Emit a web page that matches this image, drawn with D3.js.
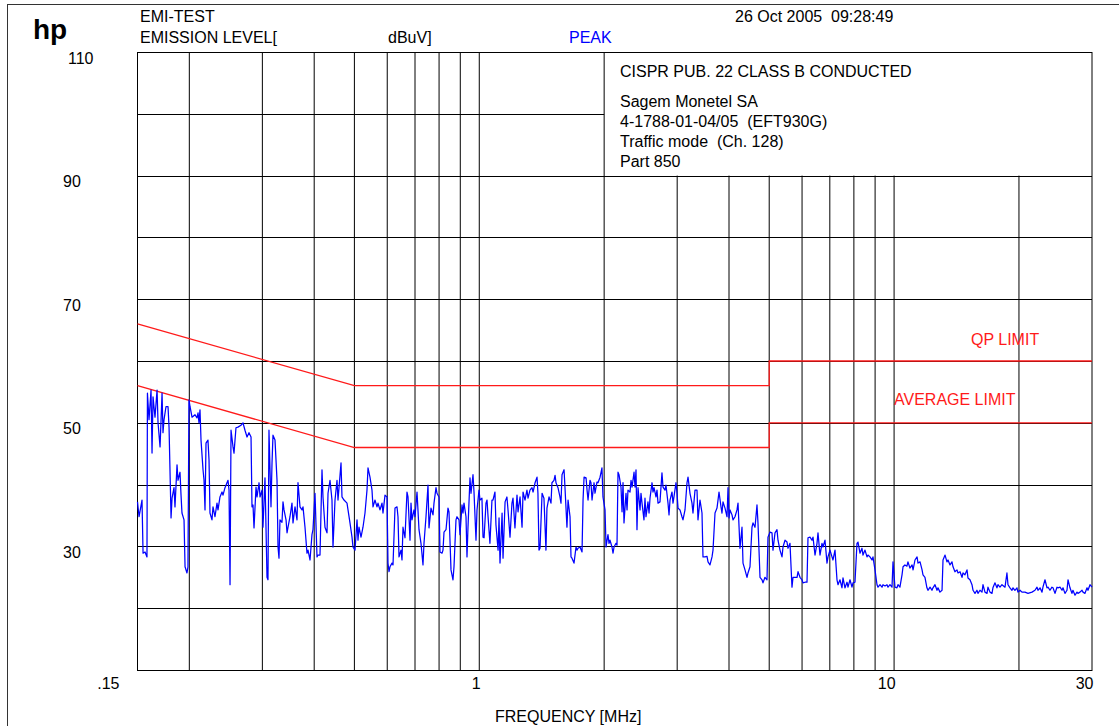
<!DOCTYPE html>
<html>
<head>
<meta charset="utf-8">
<script src="https://cdn.jsdelivr.net/npm/d3@7"></script>
<style>
  body { margin: 0; background: #fff; }
  svg text { font-family: "Liberation Sans", Arial, Helvetica, sans-serif; white-space: pre; }
</style>
</head>
<body>
<svg id="chart" width="1119" height="726"></svg>
<script>
// Peak scan of conducted emission, frequency in MHz, level in dBuV
const freqMHz = [
  0.1500,0.1513,0.1538,0.1547,0.1564,0.1581,0.1585,0.1599,0.1617,0.1626,0.1635,0.1653,0.1672,0.1681,0.1700,0.1719,0.1728,0.1738,0.1757,0.1777,
  0.1787,0.1807,0.1817,0.1837,0.1847,0.1868,0.1878,0.1899,0.1910,0.1920,0.1942,0.1953,0.1974,0.1985,0.1996,0.2008,0.2030,0.2064,0.2087,0.2099,
  0.2110,0.2122,0.2134,0.2158,0.2170,0.2182,0.2194,0.2218,0.2231,0.2243,0.2268,0.2281,0.2306,0.2332,0.2345,0.2371,0.2398,0.2411,0.2438,0.2465,
  0.2479,0.2493,0.2507,0.2521,0.2549,0.2563,0.2591,0.2620,0.2664,0.2694,0.2724,0.2755,0.2785,0.2817,0.2832,0.2848,0.2864,0.2896,0.2912,0.2945,
  0.2961,0.2994,0.3010,0.3044,0.3078,0.3095,0.3112,0.3147,0.3165,0.3182,0.3218,0.3254,0.3272,0.3290,0.3308,0.3345,0.3364,0.3383,0.3421,0.3440,
  0.3459,0.3497,0.3536,0.3556,0.3596,0.3636,0.3656,0.3697,0.3738,0.3759,0.3801,0.3843,0.3865,0.3908,0.3951,0.3973,0.4018,0.4063,0.4085,0.4131,
  0.4177,0.4200,0.4247,0.4295,0.4319,0.4367,0.4415,0.4440,0.4490,0.4540,0.4565,0.4642,0.4667,0.4720,0.4799,0.4826,0.4879,0.4934,0.4961,0.5017,
  0.5073,0.5101,0.5129,0.5187,0.5244,0.5303,0.5362,0.5392,0.5452,0.5513,0.5544,0.5606,0.5668,0.5700,0.5763,0.5828,0.5860,0.5926,0.5992,0.6025,
  0.6059,0.6092,0.6160,0.6195,0.6264,0.6334,0.6369,0.6405,0.6476,0.6512,0.6548,0.6621,0.6695,0.6733,0.6808,0.6846,0.6884,0.6961,0.6999,0.7078,
  0.7157,0.7236,0.7317,0.7358,0.7440,0.7523,0.7565,0.7649,0.7735,0.7778,0.7865,0.7908,0.7997,0.8041,0.8131,0.8176,0.8222,0.8314,0.8406,0.8453,
  0.8548,0.8595,0.8643,0.8691,0.8788,0.8837,0.8936,0.8985,0.9086,0.9136,0.9187,0.9290,0.9341,0.9393,0.9498,0.9551,0.9658,0.9712,0.9820,0.9875,
  0.9985,1.004,1.015,1.021,1.027,1.038,1.044,1.050,1.061,1.073,1.079,1.091,1.097,1.110,1.116,1.122,1.135,1.141,1.154,1.166,
  1.173,1.186,1.199,1.206,1.219,1.233,1.240,1.254,1.268,1.275,1.289,1.303,1.311,1.325,1.340,1.348,1.363,1.378,1.385,1.393,
  1.401,1.417,1.432,1.448,1.456,1.473,1.489,1.497,1.514,1.523,1.531,1.548,1.565,1.574,1.583,1.601,1.609,1.627,1.637,1.655,
  1.664,1.673,1.692,1.711,1.720,1.730,1.749,1.769,1.779,1.789,1.809,1.819,1.829,1.849,1.859,1.870,1.891,1.901,1.922,1.933,
  1.955,1.976,1.987,2.010,2.021,2.043,2.055,2.066,2.089,2.101,2.113,2.136,2.148,2.160,2.172,2.196,2.209,2.221,2.233,2.258,
  2.271,2.283,2.309,2.322,2.335,2.361,2.374,2.387,2.400,2.414,2.441,2.454,2.468,2.495,2.509,2.523,2.551,2.566,2.580,2.609,
  2.623,2.638,2.667,2.682,2.697,2.727,2.757,2.773,2.804,2.819,2.851,2.867,2.883,2.915,2.931,2.947,2.980,2.997,3.014,3.047,
  3.081,3.098,3.133,3.168,3.186,3.221,3.257,3.275,3.312,3.349,3.367,3.405,3.443,3.462,3.501,3.540,3.560,3.599,3.640,3.660,
  3.701,3.742,3.763,3.784,3.826,3.847,3.869,3.912,3.956,3.978,4.000,4.022,4.067,4.090,4.135,4.181,4.205,4.251,4.299,4.323,
  4.371,4.420,4.445,4.494,4.544,4.570,4.621,4.672,4.698,4.751,4.804,4.830,4.884,4.939,4.966,5.022,5.078,5.106,5.163,5.221,
  5.250,5.308,5.368,5.398,5.458,5.519,5.549,5.611,5.674,5.706,5.835,5.867,5.932,5.998,6.031,6.099,6.167,6.201,6.270,6.340,
  6.376,6.447,6.519,6.555,6.628,6.702,6.739,6.815,6.891,6.929,7.006,7.085,7.124,7.204,7.284,7.325,7.406,7.489,7.531,7.615,
  7.700,7.743,7.829,7.916,7.961,8.049,8.139,8.185,8.276,8.368,8.415,8.509,8.604,8.652,8.748,8.846,8.895,8.995,9.095,9.146,
  9.248,9.351,9.403,9.508,9.614,9.668,9.775,9.885,9.940,10.05,10.16,10.22,10.33,10.45,10.51,10.62,10.74,10.80,10.92,11.05,
  11.11,11.23,11.36,11.42,11.55,11.68,11.74,11.87,12.00,12.07,12.21,12.34,12.41,12.55,12.69,12.76,12.90,13.05,13.12,13.27,
  13.41,13.49,13.64,13.79,13.87,14.02,14.18,14.26,14.42,14.58,14.66,14.82,14.99,15.07,15.24,15.41,15.50,15.67,15.84,15.93,
  16.11,16.29,16.38,16.56,16.75,16.84,17.03,17.22,17.31,17.51,17.70,17.80,18.00,18.20,18.51,18.71,18.82,19.03,19.24,19.35,
  19.56,19.78,19.89,20.12,20.34,20.68,21.03,21.50,21.86,22.11,22.23,22.48,22.73,22.85,23.11,23.37,23.50,23.76,24.02,24.16,
  24.43,24.70,24.84,25.12,25.40,25.54,25.82,26.11,26.26,26.55,26.84,26.99,27.30,27.60,27.75,28.06,28.38,28.54,28.85,29.18,
  29.34,29.67,30.00
];
const levelDbuV = [
  37.2,34.8,37.5,28.9,29.1,28.3,54.8,50.5,55.3,45.1,54.2,50.9,55.3,50.0,46.1,54.8,48.4,50.5,52.6,52.6,
  49.3,34.6,37.8,39.5,36.4,43.2,40.7,42.0,38.3,35.4,34.3,26.7,25.7,26.7,53.7,52.6,50.9,51.3,50.8,51.6,
  50.0,52.1,47.2,42.4,40.7,35.9,46.7,47.2,44.0,35.4,34.3,36.4,34.8,37.0,35.9,38.0,38.8,38.3,39.5,40.3,
  40.7,39.1,23.8,48.8,46.1,45.1,49.2,49.3,49.6,50.0,48.8,47.7,48.4,47.7,36.4,36.7,33.0,39.6,38.0,40.3,
  38.0,39.1,33.1,41.1,25.0,24.6,48.8,36.4,43.5,48.0,47.2,40.7,29.9,28.1,34.3,33.9,37.2,35.9,34.3,32.2,
  33.1,34.8,37.0,33.8,36.4,34.3,40.3,36.4,35.9,36.4,33.1,28.9,29.4,27.8,31.9,32.7,38.6,28.3,28.6,28.6,
  42.4,38.0,33.1,32.2,38.6,40.7,37.5,29.9,37.5,40.7,37.5,43.5,38.0,37.5,37.0,35.9,33.8,31.5,29.9,29.4,
  34.3,31.0,33.1,31.5,33.1,35.4,39.1,42.7,41.2,39.1,36.4,37.5,36.4,37.0,35.9,37.0,35.4,38.3,38.0,27.3,
  25.9,26.7,27.3,27.0,36.2,36.4,34.8,28.3,29.4,27.8,33.1,31.4,38.8,38.0,31.0,37.0,34.3,35.9,34.8,38.8,
  32.7,30.5,27.0,30.5,34.8,39.9,33.0,36.2,35.1,37.0,39.5,38.6,38.0,29.1,28.9,29.4,32.3,32.7,36.2,35.6,
  26.2,25.4,24.6,26.7,34.3,34.8,34.3,31.9,36.7,35.4,37.0,34.8,28.3,33.1,41.1,38.6,41.6,38.8,31.0,35.9,
  39.1,37.5,37.8,31.5,31.4,37.0,37.5,34.8,30.5,37.5,37.5,38.8,33.5,29.4,34.6,27.3,35.4,28.1,37.2,38.0,
  35.9,31.5,37.0,37.8,33.0,38.3,35.6,38.0,33.1,38.8,37.5,39.1,37.8,39.1,39.5,38.8,40.3,41.2,38.6,29.4,
  29.7,38.6,37.8,29.4,36.2,38.0,37.0,40.3,40.7,41.5,40.3,39.5,38.0,37.0,41.6,42.4,39.6,33.1,37.5,34.8,
  28.3,28.1,27.3,29.9,29.4,29.7,29.9,29.1,37.5,41.2,41.1,39.1,37.5,40.7,40.3,37.5,40.3,38.6,40.4,40.3,
  41.2,42.7,38.0,35.9,29.9,31.9,30.5,31.0,29.9,28.9,29.9,30.5,30.2,42.0,41.6,39.6,35.6,40.3,33.8,38.6,
  35.9,39.1,38.8,40.7,39.6,42.0,39.6,42.4,32.7,39.5,35.9,38.6,37.0,34.3,37.8,34.8,37.2,35.4,37.8,40.3,
  38.8,39.5,38.0,39.1,37.0,37.2,41.9,39.6,39.1,39.9,37.0,35.1,37.5,38.8,37.0,38.0,40.3,38.6,36.2,35.9,
  34.8,34.3,35.9,40.3,41.2,38.6,37.0,35.4,39.1,39.1,34.3,37.5,35.4,28.3,28.3,28.4,27.5,27.0,28.3,29.4,
  35.4,36.2,37.5,38.8,36.4,35.4,37.2,36.2,34.8,39.5,34.6,35.9,35.1,34.3,34.8,35.9,37.0,29.7,33.1,27.3,
  26.2,25.0,25.7,26.7,33.1,33.8,33.1,36.7,33.8,25.0,24.6,24.1,25.0,24.6,31.5,32.3,32.2,29.4,32.2,32.7,
  31.0,29.4,28.3,29.9,31.0,30.7,29.7,30.5,23.4,25.0,25.0,25.9,25.0,24.6,24.1,24.2,24.2,31.4,31.5,31.0,
  31.5,28.6,30.5,32.2,28.6,30.5,29.9,31.0,27.3,28.3,29.4,28.3,27.8,29.4,24.6,23.8,24.6,23.3,24.9,23.3,
  24.2,23.4,24.6,23.4,24.1,24.2,30.5,30.7,28.9,29.7,28.6,29.4,28.3,28.6,28.3,27.8,28.3,26.2,23.8,23.4,
  23.8,23.4,23.8,23.6,23.8,23.4,23.8,23.4,27.5,23.4,23.3,23.8,23.4,25.4,26.7,27.0,26.8,27.5,26.5,27.0,
  26.2,27.8,28.3,27.3,27.5,26.2,25.4,25.0,23.3,22.9,23.4,22.9,23.3,23.8,22.9,23.3,22.6,22.9,27.8,28.6,
  27.5,27.8,27.0,27.5,26.7,25.9,26.2,25.7,25.9,25.0,25.7,25.4,26.2,24.9,24.6,23.8,22.9,22.4,22.9,22.4,
  22.9,22.6,23.8,22.6,22.4,23.4,22.6,22.4,23.3,24.1,23.3,23.8,23.4,23.8,23.4,25.7,23.8,23.3,22.9,23.3,
  22.9,23.3,22.6,22.9,22.6,22.6,22.4,22.6,22.9,23.4,22.9,23.3,22.6,23.4,24.6,23.3,23.4,22.9,23.4,23.3,
  22.4,23.4,23.3,23.4,22.9,23.3,22.4,22.9,24.6,23.3,22.4,22.9,22.1,22.6,22.4,22.6,22.9,22.6,22.4,23.3,
  22.9,23.8,23.4
];

// CISPR 22 class B conducted limits (corner points)
const limitFreqMHz = [0.15, 0.5, 5, 5, 30];
const qpLimitDbuV  = [66, 56, 56, 60, 60];
const avgLimitDbuV = [56, 46, 46, 50, 50];

// Axis grid and labels
const gridFreqMHz = [0.2, 0.3, 0.4, 0.5, 0.6, 0.7, 0.8, 0.9, 1, 2, 3, 4, 5, 6, 7, 8, 9, 10, 20];
const gridLevels = [20, 30, 40, 50, 60, 70, 80, 90, 100];
const freqTickValues = [0.15, 1, 10, 30];
const freqTickLabels = [".15", "1", "10", "30"];
const levelTickValues = [110, 90, 70, 50, 30];
const levelTickLabels = ["110", "90", "70", "50", "30"];

const headerLines = ["EMI-TEST", "EMISSION LEVEL[", "dBuV]", "PEAK", "26 Oct 2005  09:28:49"];
const infoLines = ["CISPR PUB. 22 CLASS B CONDUCTED", "Sagem Monetel SA", "4-1788-01-04/05  (EFT930G)", "Traffic mode  (Ch. 128)", "Part 850"];

const svg = d3.select("#chart");
const x = d3.scaleLog().domain([0.15, 30]).range([137.5, 1092]);
const y = d3.scaleLinear().domain([10, 110]).range([670, 52]);
const BOX_FREQ = 2;      // info box starts at the 2 MHz grid line
const BOX_LEVEL = 90;    // and covers the band above 90 dBuV

// outer page frame (top and left edges)
svg.append("path").attr("d", "M7.5,726 V4.5 H1119")
  .attr("fill", "none").attr("stroke", "#333").attr("stroke-width", 1)
  .attr("shape-rendering", "crispEdges");

// horizontal grid
const grid = svg.append("g").attr("stroke", "#000").attr("stroke-width", 1).attr("fill", "none");
grid.selectAll("line.h").data(gridLevels).join("line").attr("class", "h")
  .attr("x1", x(0.15))
  .attr("x2", d => d > BOX_LEVEL ? x(BOX_FREQ) : x(30))
  .attr("y1", d => Math.round(y(d)) + 0.5)
  .attr("y2", d => Math.round(y(d)) + 0.5);

// vertical grid
grid.selectAll("line.v").data(gridFreqMHz).join("line").attr("class", "v")
  .attr("x1", d => x(d)).attr("x2", d => x(d))
  .attr("y1", d => d > BOX_FREQ ? y(BOX_LEVEL) : y(110))
  .attr("y2", y(10));

// plot frame
grid.append("rect")
  .attr("x", x(0.15)).attr("y", y(110) + 0.5)
  .attr("width", x(30) - x(0.15)).attr("height", y(10) - y(110));

// limit lines
const limitLine = d3.line().x(d => x(d[0])).y(d => y(d[1]));
[qpLimitDbuV, avgLimitDbuV].forEach(levels => {
  svg.append("path")
    .datum(limitFreqMHz.map((f, i) => [f, levels[i]]))
    .attr("d", limitLine)
    .attr("fill", "none").attr("stroke", "#ff1a1a").attr("stroke-width", 1.3);
});

// measured peak trace
svg.append("path")
  .datum(freqMHz.map((f, i) => [f, levelDbuV[i]]))
  .attr("d", d3.line().x(d => x(d[0])).y(d => y(d[1])))
  .attr("fill", "none").attr("stroke", "#0000ff").attr("stroke-width", 1.25)
  .attr("stroke-linejoin", "round");

// text helpers
function label(txt, tx, ty, opts = {}) {
  return svg.append("text").text(txt)
    .attr("x", tx).attr("y", ty)
    .attr("font-size", opts.size || 16)
    .attr("font-weight", opts.weight || "normal")
    .attr("text-anchor", opts.anchor || "start")
    .attr("fill", opts.fill || "#000");
}

// level tick labels
levelTickValues.forEach((v, i) => {
  label(levelTickLabels[i], v >= 100 ? 68 : 63, y(v) + 11.5);
});

// frequency tick labels
freqTickValues.forEach((v, i) => {
  const tx = i === 0 ? x(v) - 18 : x(v) + 1.5;
  label(freqTickLabels[i], tx, 689, { anchor: "end" });
});

// header
label("hp", 33, 39, { size: 28, weight: "bold" });
label(headerLines[0], 140, 22);
label(headerLines[1], 140, 43);
label(headerLines[2], 388, 43);
label(headerLines[3], 569, 43, { fill: "#0000ff" });
label(headerLines[4], 735, 22);

// info box text
infoLines.forEach((t, i) => {
  label(t, 620, i === 0 ? 77 : 106.5 + (i - 1) * 20);
});

// limit names
label("QP LIMIT", 971, 345, { fill: "#ff1a1a" });
label("AVERAGE LIMIT", 894, 405, { fill: "#ff1a1a" });

// axis title
label("FREQUENCY [MHz]", 495, 722);
</script>
</body>
</html>
